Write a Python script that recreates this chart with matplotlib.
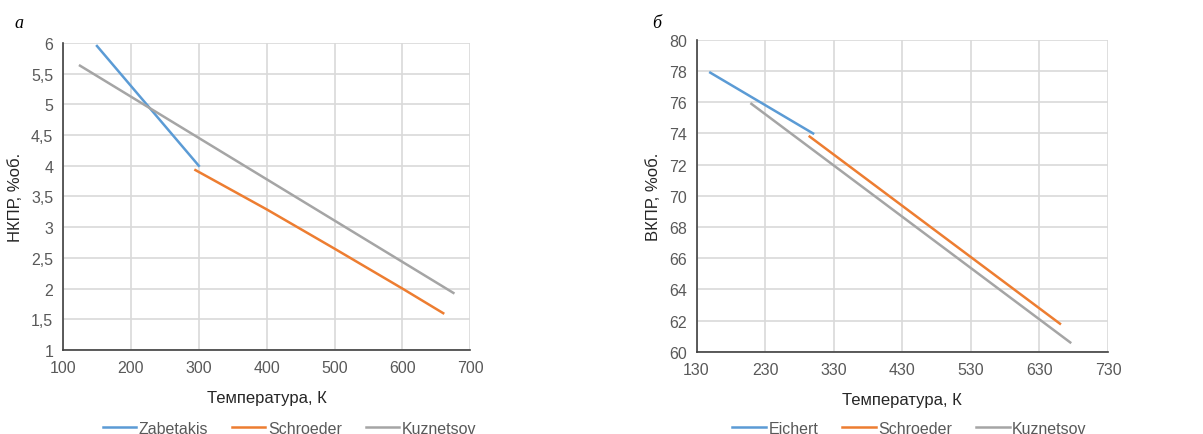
import matplotlib.pyplot as plt

# panel a: НКПР (lower flammability limit)
zab_t = [150, 300]
zab_v = [5.95, 4.0]
schr_a_t = [295, 400, 500, 600, 660]
schr_a_v = [3.93, 3.29, 2.65, 2.0, 1.6]
kuz_a_t = [125, 675]
kuz_a_v = [5.63, 1.93]

# panel b: ВКПР (upper flammability limit)
eich_t = [150, 300]
eich_v = [77.9, 74.0]
schr_b_t = [295, 660]
schr_b_v = [73.8, 61.8]
kuz_b_t = [210, 675]
kuz_b_v = [75.9, 60.6]

xt_a = [100, 200, 300, 400, 500, 600, 700]
yt_a = [1, 1.5, 2, 2.5, 3, 3.5, 4, 4.5, 5, 5.5, 6]
xt_b = [130, 230, 330, 430, 530, 630, 730]
yt_b = [60, 62, 64, 66, 68, 70, 72, 74, 76, 78, 80]

blue = '#5b9bd5'
orange = '#ed7d31'
gray = '#a5a5a5'

plt.rcParams['font.family'] = ['Liberation Sans', 'DejaVu Sans']

fig = plt.figure(figsize=(12.03, 4.35), dpi=100)
ax1 = fig.add_axes([0.0524, 0.193, 0.3386, 0.706])
ax2 = fig.add_axes([0.579, 0.189, 0.342, 0.717])


def style(ax, xt, yt, ylabel, fmt):
    ax.set_xlim(xt[0], xt[-1])
    ax.set_ylim(yt[0], yt[-1])
    ax.set_xticks(xt)
    ax.set_yticks(yt)
    ax.set_xticklabels([str(v) for v in xt])
    ax.set_yticklabels([fmt(v) for v in yt])
    ax.grid(True, color='#d9d9d9', linewidth=1.2)
    ax.set_axisbelow(True)
    for s in ['top', 'right']:
        ax.spines[s].set_visible(False)
    for s in ['left', 'bottom']:
        ax.spines[s].set_color('#404040')
        ax.spines[s].set_linewidth(1.2)
    ax.tick_params(length=0, labelsize=11.5, colors='#595959', pad=7)
    ax.set_xlabel('Температура, К', fontsize=12, color='#262626', labelpad=11)
    ax.set_ylabel(ylabel, fontsize=12, color='#262626', labelpad=6)


def fmt_a(v):
    return ('%g' % v).replace('.', ',')


ax1.plot(zab_t, zab_v, color=blue, lw=1.8, label='Zabetakis')
ax1.plot(schr_a_t, schr_a_v, color=orange, lw=1.8, label='Schroeder')
ax1.plot(kuz_a_t, kuz_a_v, color=gray, lw=1.8, label='Kuznetsov')
style(ax1, xt_a, yt_a, 'НКПР, %об.', fmt_a)

ax2.plot(eich_t, eich_v, color=blue, lw=1.8, label='Eichert')
ax2.plot(schr_b_t, schr_b_v, color=orange, lw=1.8, label='Schroeder')
ax2.plot(kuz_b_t, kuz_b_v, color=gray, lw=1.8, label='Kuznetsov')
style(ax2, xt_b, yt_b, 'ВКПР, %об.', lambda v: str(v))

for ax, cx in ((ax1, 0.2405), (ax2, 0.756)):
    leg = ax.legend(loc='lower center', bbox_to_anchor=(cx, -0.004), ncol=3,
                    bbox_transform=fig.transFigure,
                    frameon=False, fontsize=11.5, handlelength=2.1,
                    handletextpad=0.15, columnspacing=1.5, borderaxespad=0,
                    borderpad=0)
    for t in leg.get_texts():
        t.set_color('#595959')

fig.text(0.012, 0.935, 'а', fontsize=13, style='italic', family='Liberation Serif')
fig.text(0.542, 0.935, 'б', fontsize=13, style='italic', family='Liberation Serif')

fig.savefig('out.png', dpi=100)
